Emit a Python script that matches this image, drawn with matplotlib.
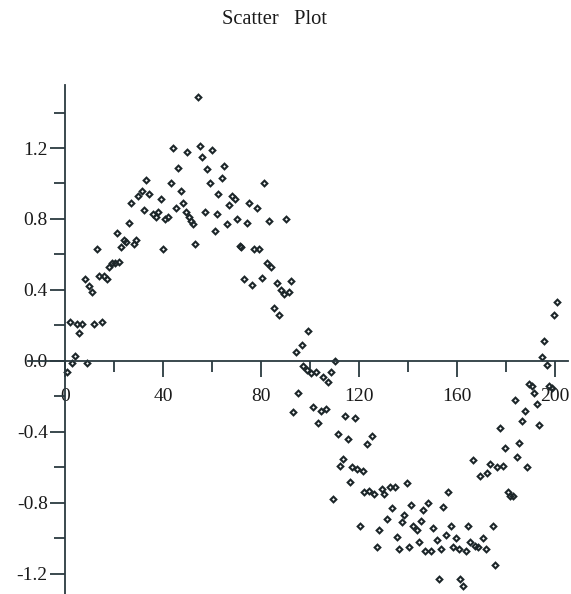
import matplotlib
matplotlib.use("Agg")
import matplotlib.pyplot as plt
from matplotlib.ticker import MultipleLocator, FormatStrFormatter

# values
x_vals = [
    0.8, 1.9, 2.7, 4.1, 4.9, 5.8, 6.8, 8.2, 9.0, 9.9, 11.0, 12.0, 13.2, 14.0, 15.1,
    15.8, 17.0, 18.0, 19.2, 20.5, 21.1, 21.9, 22.9, 24.0, 24.9, 26.0, 27.1, 28.0,
    29.1, 29.7, 31.3, 32.2, 33.1, 34.2, 36.1, 37.0, 38.0, 39.1, 40.0, 40.9, 41.9,
    43.1, 44.2, 45.2, 46.0, 47.3, 48.3, 49.3, 49.8, 50.6, 51.4, 52.1, 53.1, 54.2,
    55.2, 56.0, 57.1, 58.1, 59.2, 60.1, 61.1, 61.9, 62.6, 64.1, 65.0, 66.1, 67.1,
    68.2, 69.3, 70.2, 71.3, 72.0, 73.2, 74.3, 75.2, 76.2, 77.3, 78.4, 79.3, 80.3,
    81.4, 82.3, 83.3, 84.2, 85.3, 86.4, 87.3, 88.2, 89.3, 90.3, 91.4, 92.2, 93.2,
    94.3, 95.2, 96.6, 97.3, 98.6, 99.3, 100.4, 101.4, 102.4, 103.1, 104.4, 105.4,
    106.5, 107.2, 108.4, 109.3, 110.3, 111.3, 112.2, 113.3, 114.3, 115.4, 116.3,
    117.3, 118.4, 119.3, 120.4, 121.5, 122.0, 123.3, 124.2, 125.4, 126.3, 127.5,
    128.3, 129.3, 130.3, 131.3, 132.7, 133.3, 134.7, 135.4, 136.4, 137.4, 138.4,
    139.5, 140.5, 141.2, 142.2, 143.5, 144.4, 145.3, 146.3, 147.0, 148.3, 149.4,
    150.3, 151.7, 152.5, 153.5, 154.4, 155.5, 156.4, 157.4, 158.5, 159.6, 160.7,
    161.2, 162.3, 163.7, 164.4, 165.4, 166.7, 167.3, 168.7, 169.4, 170.5, 171.8,
    172.4, 173.5, 174.8, 175.5, 176.4, 177.6, 178.6, 179.6, 181.0, 181.6, 182.7,
    183.6, 184.4, 185.4, 186.5, 187.6, 188.4, 189.4, 190.7, 191.4, 192.5, 193.6,
    194.6, 195.4, 196.6, 197.7, 198.6, 199.5, 200.7,
]
y_vals = [
    -0.06, 0.22, -0.01, 0.03, 0.21, 0.16, 0.21, 0.46, -0.01, 0.42, 0.39, 0.21, 0.63, 0.48, 0.22,
    0.48, 0.46, 0.53, 0.55, 0.55, 0.72, 0.56, 0.64, 0.68, 0.67, 0.78, 0.89, 0.66,
    0.68, 0.93, 0.96, 0.85, 1.02, 0.94, 0.83, 0.81, 0.84, 0.91, 0.63, 0.80, 0.81,
    1.00, 1.20, 0.86, 1.09, 0.96, 0.89, 0.84, 1.18, 0.81, 0.79, 0.77, 0.66, 1.49,
    1.21, 1.15, 0.84, 1.08, 1.00, 1.19, 0.73, 0.83, 0.94, 1.03, 1.10, 0.77, 0.88,
    0.93, 0.91, 0.80, 0.65, 0.64, 0.46, 0.78, 0.89, 0.43, 0.63, 0.86, 0.63, 0.47,
    1.00, 0.55, 0.79, 0.53, 0.30, 0.44, 0.26, 0.40, 0.38, 0.80, 0.39, 0.45, -0.29,
    0.05, -0.18, 0.09, -0.03, -0.05, 0.17, -0.07, -0.26, -0.06, -0.35, -0.28, -0.09,
    -0.27, -0.12, -0.06, -0.78, 0.00, -0.41, -0.59, -0.55, -0.31, -0.44, -0.68,
    -0.60, -0.32, -0.61, -0.93, -0.62, -0.74, -0.47, -0.73, -0.42, -0.75, -1.05,
    -0.95, -0.72, -0.75, -0.89, -0.71, -0.83, -0.71, -0.99, -1.06, -0.91, -0.87,
    -0.69, -1.05, -0.81, -0.93, -0.95, -1.02, -0.90, -0.84, -1.07, -0.80, -1.07,
    -0.94, -1.01, -1.23, -1.06, -0.82, -0.98, -0.74, -0.93, -1.05, -1.00, -1.06,
    -1.23, -1.27, -1.07, -0.93, -1.02, -0.56, -1.04, -1.05, -0.65, -1.00, -1.06,
    -0.63, -0.58, -0.93, -1.15, -0.60, -0.38, -0.59, -0.49, -0.74, -0.76, -0.76,
    -0.22, -0.54, -0.46, -0.34, -0.28, -0.60, -0.13, -0.14, -0.18, -0.24, -0.36,
    0.02, 0.11, -0.02, -0.14, -0.15, 0.26, 0.33,
]

title = "Scatter   Plot"

plt.rcParams['font.family'] = ['Liberation Serif', 'DejaVu Serif']
plt.rcParams['axes.unicode_minus'] = False

axis_col = '#2b3a40'
mark_col = '#1c2629'
text_col = '#1a1a1a'

fig = plt.figure(figsize=(5.71, 5.94), dpi=100)
ax = fig.add_axes([28 / 571, 0.0, 540 / 571, (594 - 85) / 594])

ax.plot(x_vals, y_vals, linestyle='none', marker='D', markersize=2.9,
        markerfacecolor='none', markeredgecolor=mark_col, markeredgewidth=1.5)

ax.set_xlim(-15.1, 205.3)
ax.set_ylim(-1.313, 1.555)

# axes crossing at the origin
for side in ['top', 'right']:
    ax.spines[side].set_visible(False)
ax.spines['left'].set_position(('data', 0))
ax.spines['bottom'].set_position(('data', 0))
for side in ['left', 'bottom']:
    ax.spines[side].set_color(axis_col)
    ax.spines[side].set_linewidth(1.3)

ax.xaxis.set_major_locator(MultipleLocator(40))
ax.xaxis.set_minor_locator(MultipleLocator(20))
ax.yaxis.set_major_locator(MultipleLocator(0.4))
ax.yaxis.set_minor_locator(MultipleLocator(0.2))
ax.yaxis.set_major_formatter(FormatStrFormatter('%.1f'))

ax.tick_params(axis='x', which='major', direction='out', length=11.5, width=1.3,
               color=axis_col, labelsize=14, pad=8, labelcolor=text_col)
ax.tick_params(axis='x', which='minor', direction='out', length=8, width=1.3, color=axis_col)
ax.tick_params(axis='y', which='major', direction='out', length=11, width=1.3,
               color=axis_col, labelsize=14, pad=1.5, labelcolor=text_col)
ax.tick_params(axis='y', which='minor', direction='out', length=8, width=1.3, color=axis_col)

fig.text(275 / 571, 1 - 20 / 594, title, ha='center', va='center', fontsize=14.8, color=text_col)

fig.savefig('out.png', dpi=100)
